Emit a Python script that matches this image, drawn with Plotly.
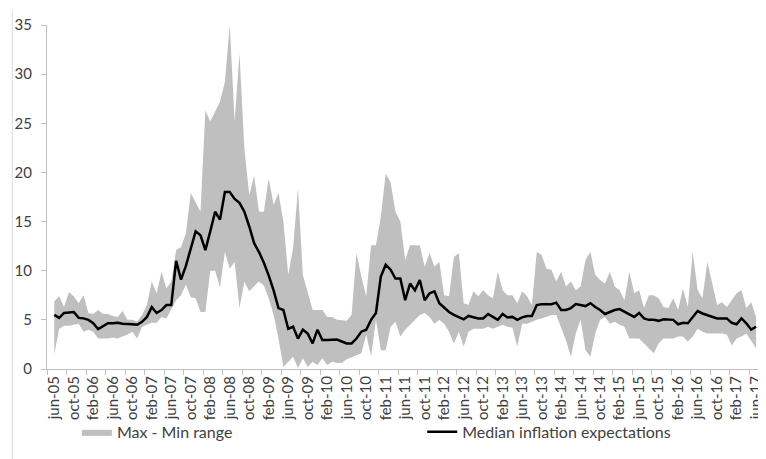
import pandas as pd
import plotly.graph_objects as go

# monthly, jun-05 .. jun-17
months = [d.strftime("%b-%y").lower() for d in pd.date_range("2005-06-01", "2017-06-01", freq="MS")]

median = [
    5.5, 5.2, 5.7, 5.75, 5.8, 5.2, 5.15, 5.0, 4.65, 4.05,
    4.35, 4.65, 4.65, 4.7, 4.6, 4.6, 4.55, 4.5, 4.8, 5.3,
    6.3, 5.7, 6.0, 6.5, 6.5, 11.0, 9.1, 10.5, 12.2, 14.0,
    13.6, 12.1, 14.0, 16.0, 15.2, 18.0, 18.0, 17.3, 16.9, 16.0,
    14.5, 12.8, 11.9, 10.8, 9.5, 8.0, 6.2, 6.0, 4.1, 4.3,
    3.1, 4.0, 3.6, 2.6, 4.0, 2.95, 2.95, 2.95, 3.0, 2.8,
    2.6, 2.6, 3.1, 3.8, 4.0, 5.0, 5.7, 9.4, 10.6, 10.1,
    9.2, 9.2, 7.0, 8.7, 8.0, 9.05, 7.0, 7.7, 7.9, 6.7,
    6.2, 5.8, 5.5, 5.25, 5.05, 5.4, 5.3, 5.15, 5.15, 5.6,
    5.3, 5.0, 5.6, 5.25, 5.3, 5.0, 5.25, 5.4, 5.4, 6.5,
    6.6, 6.6, 6.6, 6.75, 6.0, 6.0, 6.2, 6.6, 6.5, 6.4,
    6.7, 6.3, 6.0, 5.6, 5.8, 6.0, 6.1, 5.8, 5.55, 5.3,
    5.7, 5.15, 5.0, 5.0, 4.9, 5.05, 5.0, 5.0, 4.55, 4.7,
    4.65, 5.3, 5.9, 5.65, 5.5, 5.3, 5.15, 5.15, 5.15, 4.7,
    4.55, 5.15, 4.65, 4.0, 4.3,
]

range_max = [
    6.9, 7.4, 6.3, 7.8, 7.4, 6.7, 7.5, 5.7, 5.6, 6.0,
    5.6, 5.6, 5.4, 5.3, 5.9, 5.0, 5.0, 4.8, 5.5, 6.5,
    8.9, 7.7, 9.9, 8.2, 8.9, 12.1, 12.4, 13.8, 17.9, 17.0,
    16.0, 26.3, 25.2, 26.2, 27.2, 29.2, 35.0, 25.2, 32.1, 22.4,
    17.7, 19.7, 16.0, 16.0, 19.4, 16.7, 17.9, 15.0, 9.6, 12.3,
    18.4, 9.6, 7.9, 6.0, 6.0, 6.0, 5.3, 5.3, 5.0, 4.95,
    4.9, 5.5, 11.8, 9.4, 7.4, 12.6, 12.6, 15.5, 19.9, 19.0,
    16.0, 15.0, 11.1, 12.6, 12.6, 12.6, 10.4, 11.8, 10.4, 10.9,
    7.5, 7.4, 11.4, 11.8, 6.7, 6.5, 7.9, 7.4, 8.0, 7.5,
    7.2, 9.9, 8.0, 7.5, 7.5, 6.7, 7.9, 7.4, 6.5, 11.9,
    11.6, 10.2, 10.1, 8.9, 9.9, 8.4, 8.9, 8.0, 8.4, 11.1,
    11.9, 9.6, 9.05, 8.7, 9.9, 8.4, 8.0, 7.0, 9.9, 7.7,
    8.0, 6.2, 7.5, 7.5, 7.2, 6.3, 6.2, 7.2, 6.0, 8.2,
    6.3, 11.9, 8.0, 7.2, 10.9, 8.7, 6.5, 6.8, 6.3, 7.0,
    7.7, 8.0, 6.2, 6.8, 5.3,
]

range_min = [
    1.5, 4.1, 4.4, 4.4, 4.5, 4.6, 3.8, 4.0, 3.8, 3.1,
    3.1, 3.1, 3.2, 3.1, 3.3, 3.5, 3.8, 3.1, 4.3, 4.5,
    4.7, 4.7, 5.3, 5.15, 6.0, 7.0, 7.5, 8.6, 7.3, 7.2,
    5.8, 5.8, 10.0, 10.0, 8.3, 11.9, 10.2, 10.9, 6.2, 8.9,
    7.9, 8.4, 8.9, 8.5, 7.2, 5.5, 3.1, 0.2, 0.75, 1.25,
    0.1, 1.1, 0.2, 0.75, 0.4, 1.1, 0.4, 0.75, 0.6, 0.6,
    1.0, 1.25, 1.4, 1.6, 3.5, 1.3, 5.0, 1.9, 1.9, 4.3,
    4.8, 3.3, 4.0, 4.5, 5.0, 5.5, 5.7, 5.3, 4.6, 5.0,
    4.6, 3.8, 2.6, 3.8, 2.3, 3.8, 4.1, 4.1, 4.1, 4.3,
    4.1, 4.3, 4.5, 4.3, 4.2, 2.3, 4.6, 4.6, 4.8, 5.0,
    5.15, 5.3, 5.5, 5.5, 4.3, 2.9, 1.25, 3.6, 5.0, 1.9,
    1.25, 3.6, 5.0, 5.3, 4.6, 4.8, 4.5, 4.3, 3.1, 3.1,
    3.1, 2.6, 2.1, 1.6, 2.6, 3.1, 3.1, 3.1, 3.3, 3.3,
    2.8, 3.3, 4.1, 3.8, 3.6, 3.6, 3.6, 3.6, 3.5, 2.4,
    3.1, 3.3, 3.6, 2.9, 2.1,
]

idx = list(range(len(months)))
tick_idx = idx[::4]
tick_text = months[::4]

FONT = "Lato, 'Open Sans', sans-serif"
TEXT = "#404040"
AXIS = "#bfbfbf"

fig = go.Figure()

# max-min band as one closed polygon
fig.add_trace(
    go.Scatter(
        x=idx + idx[::-1],
        y=range_max + range_min[::-1],
        fill="toself",
        fillcolor="#bfbfbf",
        line={"width": 0, "color": "#bfbfbf"},
        mode="lines",
        name="Max - Min range",
        hoverinfo="skip",
        legend="legend",
    )
)

fig.add_trace(
    go.Scatter(
        x=idx,
        y=median,
        mode="lines",
        name="Median inflation expectations",
        line={"color": "black", "width": 2.5},
        legend="legend2",
    )
)

# one legend per entry so the two can sit where the original has them
legend_common = {
    "orientation": "h",
    "xanchor": "left",
    "y": -0.183,
    "yanchor": "middle",
    "font": {"size": 16, "color": TEXT},
    "bgcolor": "rgba(0,0,0,0)",
}

# page body has an 8px margin, so the figure is 8px smaller than the window
fig.update_layout(
    width=758,
    height=451,
    margin={"l": 39, "r": 2, "t": 17, "b": 90},
    paper_bgcolor="white",
    plot_bgcolor="white",
    font={"family": FONT, "color": TEXT, "size": 14},
    showlegend=True,
    legend={**legend_common, "x": 0.042},
    legend2={**legend_common, "x": 0.527},
    shapes=[
        {
            "type": "line",
            "xref": "paper",
            "yref": "paper",
            "x0": -0.0488,
            "x1": -0.0488,
            "y0": -0.27,
            "y1": 1.04,
            "line": {"color": "#d9d9d9", "width": 1},
        }
    ],
)

fig.update_xaxes(
    range=[-1.5, 144.6],
    tickmode="array",
    tickvals=tick_idx,
    ticktext=tick_text,
    tickangle=-90,
    ticks="",
    ticklabeloverflow="allow",
    showgrid=False,
    zeroline=False,
    showline=True,
    linecolor=AXIS,
    linewidth=1,
    tickfont={"size": 15, "color": TEXT},
    minor={"ticks": "outside", "tick0": -1.4, "dtick": 4, "ticklen": 5, "tickcolor": AXIS, "showgrid": False},
)

fig.update_yaxes(
    range=[0, 35],
    tickmode="linear",
    tick0=0,
    dtick=5,
    ticks="outside",
    ticklen=5,
    tickcolor=AXIS,
    showgrid=False,
    zeroline=False,
    showline=True,
    linecolor=AXIS,
    linewidth=1,
    tickfont={"size": 15, "color": TEXT},
    ticklabelstandoff=6,
)

fig.write_html("out.html")
